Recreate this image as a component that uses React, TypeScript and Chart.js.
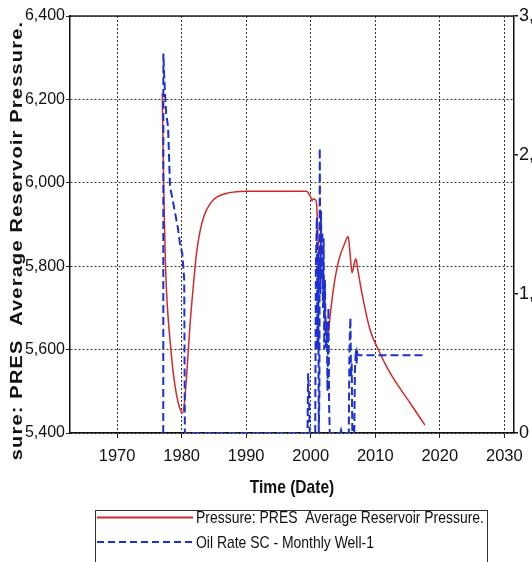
import React, { useEffect, useRef } from "react";
import { Chart, registerables } from "chart.js";
Chart.register(...registerables);

// ---- data ----
const xTickYears = [1970, 1980, 1990, 2000, 2010, 2020, 2030];
const pressureTicks = [5400, 5600, 5800, 6000, 6200, 6400];
const rateTicks = [0, 1000, 2000, 3000];

const pressureYears = [
  1977.0, 1977.15, 1977.3, 1977.5, 1977.8, 1978.2, 1978.7, 1979.2, 1979.7, 1980.1,
  1980.4, 1980.8, 1981.3, 1981.8, 1982.3, 1982.8, 1983.5, 1984.5, 1985.5, 1987.0,
  1989.0, 1990.0, 1995.0, 1999.4, 1999.8, 2000.0, 2000.2, 2000.4, 2000.7, 2000.9,
  2001.1, 2001.3, 2001.5, 2001.7, 2001.9, 2002.2, 2002.6, 2003.0, 2003.5, 2004.0,
  2004.5, 2005.2, 2005.8, 2006.1, 2006.4, 2006.8, 2007.0, 2007.3, 2008.0, 2009.2,
  2010.5, 2012.3, 2015.4, 2017.7,
];
const pressureValues = [
  6215, 6050, 5930, 5800, 5700, 5623, 5544, 5492, 5460, 5448,
  5468, 5544, 5660, 5751, 5830, 5880, 5922, 5952, 5966, 5975,
  5979, 5980, 5980, 5980, 5971, 5966, 5957, 5962, 5960, 5952,
  5880, 5808, 5760, 5792, 5768, 5690, 5623, 5680, 5743, 5790,
  5823, 5852, 5871, 5830, 5784, 5810, 5818, 5791, 5730, 5647,
  5599, 5544, 5472, 5419,
];

const oilYears = [
  1977.15, 1977.17, 1977.3, 1977.45, 1977.6, 1977.9, 1978.2, 1978.6, 1979.0, 1979.4,
  1979.75, 1980.1, 1980.4, 1980.5, 1999.5, 1999.6, 1999.75, 1999.85, 2000.7, 2000.8,
  2000.95, 2001.05, 2001.15, 2001.25, 2001.35, 2001.4, 2001.5, 2001.6, 2001.7, 2001.8,
  2001.9, 2002.0, 2002.1, 2002.2, 2002.35, 2002.5, 2002.6, 2002.75, 2002.85, 2002.95,
  2004.6, 2004.7, 2004.8, 2005.9, 2006.0, 2006.15, 2006.25, 2006.35, 2006.45, 2006.75,
  2006.85, 2007.0, 2007.1, 2007.2, 2007.3, 2017.7,
];
const oilValues = [
  0, 2730, 2560, 2420, 2300, 2200, 1770, 1680, 1580, 1480,
  1360, 1290, 1100, 0, 0, 430, 250, 0, 0, 1200,
  1550, 600, 1300, 0, 300, 2050, 1000, 1600, 1100, 1450,
  900, 1400, 600, 1100, 600, 800, 300, 900, 200, 0,
  0, 20, 0, 0, 600, 830, 400, 500, 0, 0,
  450, 600, 500, 580, 560, 560,
];

const pressureLabel = "Pressure: PRES  Average Reservoir Pressure.";
const oilLabel = "Oil Rate SC - Monthly Well-1";
const yTitle = "sure: PRES  Average Reservoir Pressure.";
const xTitle = "Time (Date)";

const RED = "#d12a2a";
const BLUE = "#1c30d4";
const FONT = "Arial, 'Liberation Sans', sans-serif";

const decorPlugin = {
  id: "decor",
  afterDraw(chart: any) {
    const ctx = chart.ctx as CanvasRenderingContext2D;
    const { left, right, top, bottom } = chart.chartArea;
    ctx.save();
    // top frame line
    ctx.strokeStyle = "#222";
    ctx.lineWidth = 1.5;
    ctx.setLineDash([]);
    ctx.beginPath();
    ctx.moveTo(left, top);
    ctx.lineTo(right, top);
    ctx.stroke();

    // y title (rotated, condensed)
    ctx.save();
    ctx.translate(21.5, (top + bottom) / 2 + 16);
    ctx.scale(0.8, 1);
    ctx.rotate(-Math.PI / 2);
    ctx.font = "bold 20px " + FONT;
    (ctx as any).letterSpacing = "1.2px";
    ctx.fillStyle = "#111";
    ctx.textAlign = "center";
    ctx.textBaseline = "alphabetic";
    ctx.fillText(yTitle, 0, 0);
    ctx.restore();

    // x title
    ctx.save();
    ctx.translate((left + right) / 2, 488);
    ctx.scale(0.82, 1);
    ctx.font = "bold 19px " + FONT;
    ctx.fillStyle = "#111";
    ctx.textAlign = "center";
    ctx.textBaseline = "middle";
    ctx.fillText(xTitle, 0, 0);
    ctx.restore();

    // legend
    const lx = 95.5, ly = 510.5, lw = 392;
    ctx.strokeStyle = "#333";
    ctx.lineWidth = 1;
    ctx.strokeRect(lx, ly, lw, 80);
    const ds = chart.data.datasets;
    const rows = [
      { y: 517.5, color: ds[0].borderColor, dash: [] as number[], text: ds[0].label },
      { y: 542, color: ds[1].borderColor, dash: [7, 4], text: ds[1].label },
    ];
    rows.forEach((r) => {
      ctx.strokeStyle = r.color;
      ctx.lineWidth = 2;
      ctx.setLineDash(r.dash);
      ctx.beginPath();
      ctx.moveTo(97, r.y);
      ctx.lineTo(193, r.y);
      ctx.stroke();
      ctx.setLineDash([]);
      ctx.save();
      ctx.translate(196, r.y + 1);
      ctx.scale(0.82, 1);
      ctx.font = "17px " + FONT;
      ctx.fillStyle = "#111";
      ctx.textAlign = "left";
      ctx.textBaseline = "middle";
      ctx.fillText(r.text, 0, 0);
      ctx.restore();
    });
    ctx.restore();
  },
};

export default function App() {
  const ref = useRef<HTMLCanvasElement>(null);
  useEffect(() => {
    if (!ref.current) return;
    const chart = new Chart(ref.current, {
      type: "line",
      data: {
        datasets: [
          {
            label: pressureLabel,
            data: pressureYears.map((x, i) => ({ x, y: pressureValues[i] })),
            borderColor: RED,
            backgroundColor: RED,
            borderWidth: 1.5,
            pointRadius: 0,
            cubicInterpolationMode: "monotone",
            yAxisID: "y",
            order: 1,
          },
          {
            label: oilLabel,
            data: oilYears.map((x, i) => ({ x, y: oilValues[i] })),
            borderColor: BLUE,
            backgroundColor: BLUE,
            borderWidth: 2,
            borderDash: [8, 4],
            pointRadius: 0,
            tension: 0,
            yAxisID: "y1",
            order: 0,
          },
        ],
      },
      options: {
        animation: false,
        responsive: false,
        layout: { padding: { top: 16, left: 0, right: 0, bottom: 0 } },
        plugins: { legend: { display: false }, tooltip: { enabled: false } },
        scales: {
          x: {
            type: "linear",
            position: "bottom",
            min: 1962.7,
            max: 2031.5,
            afterBuildTicks: (s: any) => {
              s.ticks = xTickYears.map((v) => ({ value: v }));
            },
            afterFit: (s: any) => {
              s.height = 129;
            },
            ticks: {
              color: "#111",
              font: { family: FONT, size: 16.5 },
              padding: 9,
              maxRotation: 0,
              callback: (v: any) => String(v),
            },
            grid: { color: "#333", lineWidth: 1, tickLength: 5, tickColor: "#222" },
            border: { display: true, color: "#111", width: 1.5, dash: [2, 2] },
          },
          y: {
            type: "linear",
            position: "left",
            min: 5400,
            max: 6400,
            afterBuildTicks: (s: any) => {
              s.ticks = pressureTicks.map((v) => ({ value: v }));
            },
            afterFit: (s: any) => {
              s.width = 70;
            },
            ticks: {
              color: "#111",
              font: { family: FONT, size: 16 },
              padding: 1,
            },
            grid: { color: "#333", lineWidth: 1, tickLength: 4, tickColor: "#222" },
            border: { display: true, color: "#111", width: 1.5, dash: [2, 2] },
          },
          y1: {
            type: "linear",
            position: "right",
            min: 0,
            max: 3000,
            afterBuildTicks: (s: any) => {
              s.ticks = rateTicks.map((v) => ({ value: v }));
            },
            afterFit: (s: any) => {
              s.width = 86;
            },
            ticks: {
              color: "#111",
              font: { family: FONT, size: 18 },
              padding: 1,
            },
            grid: { drawOnChartArea: false, tickLength: 4, tickColor: "#111", lineWidth: 1.5 },
            border: { display: true, color: "#111", width: 1.5 },
          },
        },
      },
      plugins: [decorPlugin],
    } as any);
    return () => chart.destroy();
  }, []);

  return (
    <div
      style={{
        position: "fixed",
        left: 0,
        top: 0,
        width: 532,
        height: 562,
        overflow: "hidden",
        background: "#fff",
      }}
    >
      <canvas ref={ref} width={600} height={562} style={{ display: "block" }} />
    </div>
  );
}
